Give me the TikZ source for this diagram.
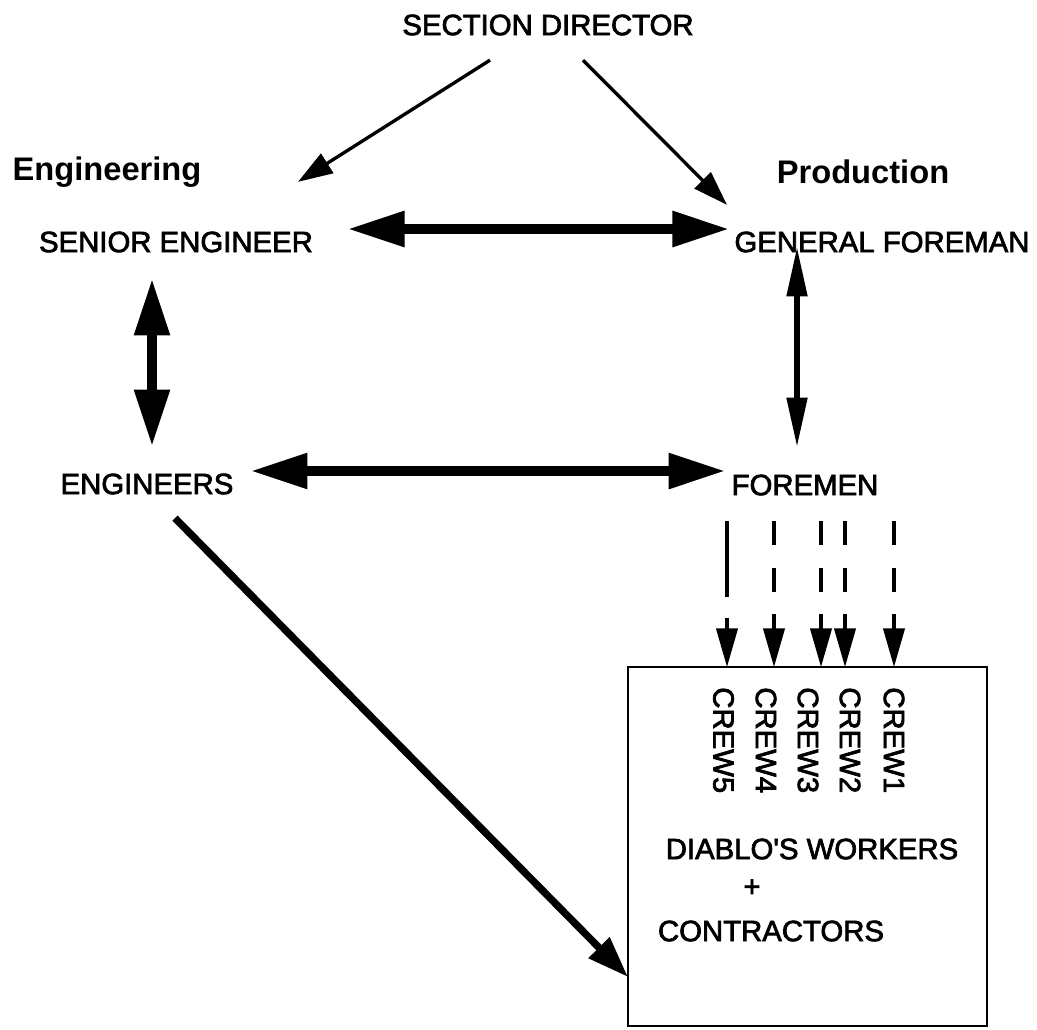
\documentclass[tikz,border=0pt]{standalone}
\usepackage{fontspec}
\setmainfont{Liberation Sans}
\newfontfamily\scanfont{Liberation Sans}[RawFeature={embolden=2.4}]
\usetikzlibrary{positioning, calc, arrows.meta}

\tikzset{
  lbl/.style={inner sep=0pt, font=\scanfont\fontsize{22}{26}\selectfont},
  dept/.style={inner sep=0pt, font=\fontsize{24.5}{29}\selectfont\bfseries},
  crew/.style={lbl, rotate=-90, anchor=west},
  order/.style={line width=2.5pt, -{Triangle[length=26pt, width=17pt]}},
  link/.style={line width=8pt, {Triangle[length=43pt, width=25pt]}-{Triangle[length=43pt, width=25pt]}},
  slimlink/.style={line width=3.8pt, {Triangle[length=37pt, width=15pt]}-{Triangle[length=37pt, width=15pt]}},
  direct/.style={line width=5.5pt, -{Triangle[length=31pt, width=21pt]}},
  task/.style={line width=2.3pt, dash pattern=on 18pt off 17pt, -{Triangle[length=29pt, width=16pt]}}
}

\begin{document}
\begin{tikzpicture}[x=0.75pt, y=-0.75pt]
\useasboundingbox (0,0) rectangle (1037,1029);

\node[lbl] (sd) at (548,25) {SECTION DIRECTOR};
\node[dept] (eng) at (107,172) {Engineering};
\node[dept] (prod) at (863,172) {Production};
\node[lbl] (se) at (176,242) {SENIOR ENGINEER};
\node[lbl] (gf) at (882,242) {GENERAL FOREMAN};
\node[lbl] (en) at (147,484) {ENGINEERS};
\node[lbl] (fo) at (805,485) {FOREMEN};

% crews box
\node[draw, line width=2.2pt, outer sep=0pt, minimum width=269.25pt, minimum height=269.25pt] (box) at (807.5,846.5) {};
\node[crew] (c5) at (723.5,687) {CREW5};
\node[crew] (c4) at (766,687) {CREW4};
\node[crew] (c3) at (808,687) {CREW3};
\node[crew] (c2) at (850,687) {CREW2};
\node[crew] (c1) at (894,687) {CREW1};
\node[lbl] (dw) at (812,849) {DIABLO\textquotesingle S WORKERS};
\node[lbl] (plus) at (752,888) {+};
\node[lbl] (ct) at (771,931) {CONTRACTORS};

\draw[order] ($(sd.south)+(-58,24.5)$) -- ($(se.north)+(122,-49.5)$);
\draw[order] ($(sd.south)+(35,24.5)$) -- ($(gf.north)+(-155,-26.5)$);
\draw[link] ($(se.east)+(34,-13)$) -- ($(gf.west)+(-4.5,-13)$);
\draw[link] ($(se.south)+(-24,25.5)$) -- ($(en.north)+(5,-26.5)$);
\draw[slimlink] ($(gf.south)+(-85,-5.5)$) -- ($(fo.north)+(-8,-27.5)$);
\draw[link] ($(en.east)+(16.5,-13)$) -- ($(fo.west)+(-5.5,-14)$);
\draw[direct] ($(en.south)+(28,23.5)$) -- ($(box.west)+(0,130.5)$);

% foremen to crews
\foreach \dx [count=\i] in {-78,-31,16,40,89}
  \coordinate (s\i) at ($(fo.south)+(\dx,25.5)$);
\draw[task, dash pattern=on 57pt off 16pt] (s1) -- (s1 |- box.north);
\foreach \i in {2,...,5}
  \draw[task] (s\i) -- (s\i |- box.north);
\end{tikzpicture}
\end{document}
